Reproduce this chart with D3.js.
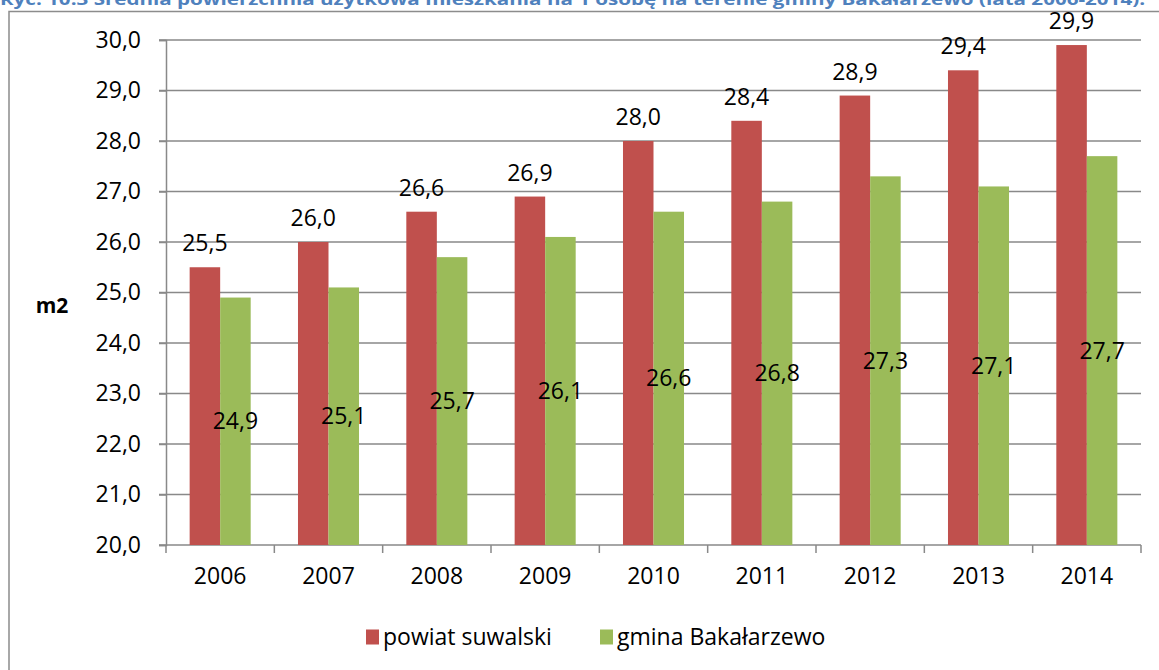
<!DOCTYPE html>
<html>
<head>
<meta charset="utf-8">
<script src="https://cdn.jsdelivr.net/npm/d3@7"></script>
<style>
  body { margin: 0; background: white; }
  svg { display: block; }
</style>
</head>
<body>
<script>
var years = ["2006", "2007", "2008", "2009", "2010", "2011", "2012", "2013", "2014"];
var powiat = [25.5, 26.0, 26.6, 26.9, 28.0, 28.4, 28.9, 29.4, 29.9];
var gmina = [24.9, 25.1, 25.7, 26.1, 26.6, 26.8, 27.3, 27.1, 27.7];
var seriesNames = ["powiat suwalski", "gmina Bakałarzewo"];
var yTicks = [20, 21, 22, 23, 24, 25, 26, 27, 28, 29, 30];
var title = "Ryc. 10.3 Średnia powierzchnia użytkowa mieszkania na 1 osobę na terenie gminy Bakałarzewo (lata 2006-2014).";

var width = 1159, height = 670;
var colors = ["#C0504D", "#9BBB59"];
var font = "'Open Sans', sans-serif";
var fs = "23px";
var fmt = function(v) { return d3.format(".1f")(v).replace(".", ","); };

var svg = d3.select("body").append("svg")
  .attr("width", width)
  .attr("height", height);

// title (cut off at the top in the source)
svg.append("text")
  .attr("x", 0)
  .attr("y", 5)
  .attr("textLength", 1145)
  .attr("lengthAdjust", "spacingAndGlyphs")
  .style("font-family", font)
  .style("font-weight", "bold")
  .style("font-size", "16px")
  .style("fill", "#4F81BD")
  .text(title);

// chart frame
svg.append("path")
  .attr("d", "M9,670V11.5H1159")
  .style("fill", "none")
  .style("stroke", "#8c8c8c")
  .style("stroke-width", 1.5);

var plot = { left: 166, right: 1141, top: 40, bottom: 545 };

var y = d3.scaleLinear().domain([20, 30]).range([plot.bottom, plot.top]);
var x0 = d3.scaleBand().domain(years).range([plot.left, plot.right]);
var x1 = d3.scaleBand().domain([0, 1]).range([0, x0.bandwidth()])
  .paddingInner(0).paddingOuter(0.775);

// gridlines
svg.append("g")
  .selectAll("line")
  .data(yTicks)
  .enter().append("line")
  .attr("x1", plot.left - 7)
  .attr("x2", plot.right)
  .attr("y1", function(d) { return y(d); })
  .attr("y2", function(d) { return y(d); })
  .style("stroke", "#898989")
  .style("stroke-width", 1.5);

// y axis
var yAxis = svg.append("g")
  .attr("transform", "translate(" + plot.left + ",0)")
  .call(d3.axisLeft(y).tickValues(yTicks).tickFormat(fmt).tickSize(7).tickPadding(18));
yAxis.selectAll("path, line").style("stroke", "#898989").style("stroke-width", 1.5);
yAxis.selectAll("text")
  .style("font-family", font)
  .style("font-size", fs)
  .style("fill", "#000");

// x axis
var xAxis = svg.append("g")
  .attr("transform", "translate(0," + plot.bottom + ")")
  .call(d3.axisBottom(x0).tickSize(0).tickPadding(23));
xAxis.select("path").remove();
xAxis.selectAll("text")
  .style("font-family", font)
  .style("font-size", fs)
  .style("fill", "#000");

var bounds = years.map(function(d) { return x0(d); }).concat([plot.right]);
svg.append("g")
  .selectAll("line")
  .data(bounds)
  .enter().append("line")
  .attr("x1", function(d) { return d; })
  .attr("x2", function(d) { return d; })
  .attr("y1", plot.bottom)
  .attr("y2", plot.bottom + 8)
  .style("stroke", "#898989")
  .style("stroke-width", 1.5);

// bars
var rows = years.map(function(d, i) { return { year: d, values: [powiat[i], gmina[i]] }; });

var groups = svg.append("g")
  .selectAll("g")
  .data(rows)
  .enter().append("g")
  .attr("transform", function(d) { return "translate(" + x0(d.year) + ",0)"; });

groups.selectAll("rect")
  .data(function(d) { return d.values; })
  .enter().append("rect")
  .attr("x", function(d, i) { return x1(i); })
  .attr("width", x1.bandwidth())
  .attr("y", function(d) { return y(d); })
  .attr("height", function(d) { return y(20) - y(d); })
  .style("fill", function(d, i) { return colors[i]; });

// value labels
groups.append("text")
  .attr("x", x1(0) + x1.bandwidth() / 2)
  .attr("y", function(d) { return y(d.values[0]) - 16; })
  .attr("text-anchor", "middle")
  .style("font-family", font)
  .style("font-size", fs)
  .text(function(d) { return fmt(d.values[0]); });

groups.append("text")
  .attr("x", x1(1) + x1.bandwidth() / 2)
  .attr("y", function(d) { return y((d.values[1] + 20) / 2); })
  .attr("dy", "0.35em")
  .attr("text-anchor", "middle")
  .style("font-family", font)
  .style("font-size", fs)
  .text(function(d) { return fmt(d.values[1]); });

// y axis title
svg.append("text")
  .attr("x", 52)
  .attr("y", 306)
  .attr("dy", "0.35em")
  .attr("text-anchor", "middle")
  .style("font-family", font)
  .style("font-weight", "bold")
  .style("font-size", "21px")
  .text("m2");

// legend
var legendX = [366, 600];
var legend = svg.append("g")
  .selectAll("g")
  .data(seriesNames)
  .enter().append("g")
  .attr("transform", function(d, i) { return "translate(" + legendX[i] + ",637)"; });

legend.append("rect")
  .attr("x", 0)
  .attr("y", -7.5)
  .attr("width", 13)
  .attr("height", 15)
  .style("fill", function(d, i) { return colors[i]; });

legend.append("text")
  .attr("x", 17)
  .attr("dy", "0.35em")
  .style("font-family", font)
  .style("font-size", fs)
  .text(function(d) { return d; });
</script>
</body>
</html>
